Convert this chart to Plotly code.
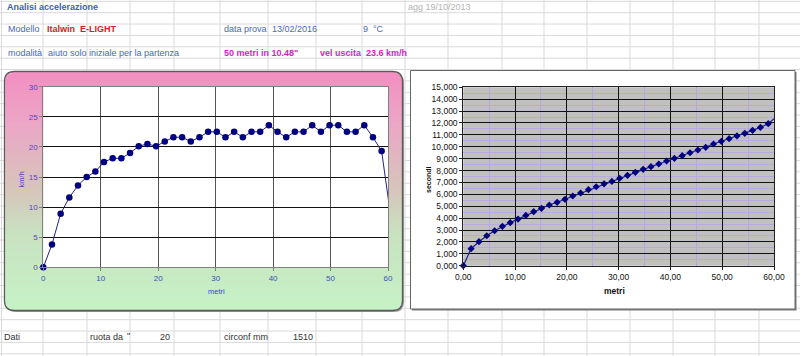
import math
import plotly.graph_objects as go

# ---------------- data ----------------
metri = [0.00, 1.51, 3.02, 4.53, 6.04, 7.55, 9.06, 10.57, 12.08, 13.59,
         15.10, 16.61, 18.12, 19.63, 21.14, 22.65, 24.16, 25.67, 27.18, 28.69,
         30.20, 31.71, 33.22, 34.73, 36.24, 37.75, 39.26, 40.77, 42.28, 43.79,
         45.30, 46.81, 48.32, 49.83, 51.34, 52.85, 54.36, 55.87, 57.38, 58.89,
         60.40]
velocita_kmh = [0.0, 3.8, 8.9, 11.6, 13.6, 15.0, 15.9, 17.5, 18.1, 18.1,
                19.0, 20.1, 20.5, 20.1, 20.9, 21.6, 21.6, 20.9, 21.6, 22.5,
                22.5, 21.6, 22.5, 21.6, 22.5, 22.5, 23.6, 22.5, 21.6, 22.5,
                22.5, 23.6, 22.5, 23.6, 23.6, 22.5, 22.5, 23.6, 21.6, 19.3,
                9.0]
tempo_s = [0.00, 1.43, 2.02, 2.52, 2.94, 3.31, 3.62, 3.92, 4.23, 4.54,
           4.82, 5.10, 5.33, 5.58, 5.86, 6.11, 6.39, 6.64, 6.88, 7.09,
           7.35, 7.60, 7.85, 8.10, 8.33, 8.55, 8.80, 9.03, 9.25, 9.50,
           9.73, 9.95, 10.23, 10.46, 10.68, 10.91, 11.13, 11.38, 11.63, 11.94,
           12.50]

# ---------------- geometry helpers ----------------
W, H = 800, 356


def px(x):
    return x / W


def py(y):
    return 1 - y / H


FONT = "Liberation Sans, Arial, sans-serif"

L_X0, L_X1, L_Y0, L_Y1 = 43.3, 388.0, 86.7, 267.3   # left plot area (pixels)
R_X0, R_X1, R_Y0, R_Y1 = 463.3, 774.0, 87.3, 265.7  # right plot area (pixels)

shapes = []

# spreadsheet grid
col_x = [1.5, 43, 87, 130, 174, 220, 268, 316, 362, 405, 448, 502, 544, 587,
         630, 673, 715, 759]
for cx in col_x:
    shapes.append(dict(type="line", xref="paper", yref="paper", layer="below",
                       x0=px(cx), x1=px(cx), y0=0, y1=1,
                       line=dict(color="#d9d9d9", width=1)))
for k in range(32):
    ry = 1.3 + 11.37 * k
    shapes.append(dict(type="line", xref="paper", yref="paper", layer="below",
                       x0=0, x1=1, y0=py(ry), y1=py(ry),
                       line=dict(color="#d9d9d9", width=1)))


def rounded_path(x0, y0, x1, y1, r):
    P = lambda x, y: f"{px(x):.5f},{py(y):.5f}"
    return (f"M{P(x0 + r, y0)} L{P(x1 - r, y0)} Q{P(x1, y0)} {P(x1, y0 + r)} "
            f"L{P(x1, y1 - r)} Q{P(x1, y1)} {P(x1 - r, y1)} "
            f"L{P(x0 + r, y1)} Q{P(x0, y1)} {P(x0, y1 - r)} "
            f"L{P(x0, y0 + r)} Q{P(x0, y0)} {P(x0 + r, y0)} Z")


# left box (rounded, gradient pink -> green)
BX0, BY0, BX1, BY1, BR = 4.5, 71.5, 402.5, 310.5, 10
shapes.append(dict(type="path", xref="paper", yref="paper", layer="below",
                   path=rounded_path(BX0 + 1.5, BY0 + 1.5, BX1 + 1.5, BY1 + 1.5, BR),
                   fillcolor="#9a9a9a", line=dict(width=0)))
stops = [(0.00, (255, 140, 198)), (0.22, (247, 168, 204)), (0.50, (222, 204, 192)),
         (0.68, (207, 236, 198)), (1.00, (204, 255, 204))]


def grad(t):
    for (t0, c0), (t1, c1) in zip(stops[:-1], stops[1:]):
        if t <= t1:
            f = (t - t0) / (t1 - t0) if t1 > t0 else 0
            return "rgb(%d,%d,%d)" % tuple(round(a + (b - a) * f) for a, b in zip(c0, c1))
    return "rgb(%d,%d,%d)" % stops[-1][1]


y = BY0
while y < BY1:
    yc = y + 0.5
    inset = 0.0
    if yc < BY0 + BR:
        d = BY0 + BR - yc
        inset = BR - math.sqrt(max(BR * BR - d * d, 0))
    elif yc > BY1 - BR:
        d = yc - (BY1 - BR)
        inset = BR - math.sqrt(max(BR * BR - d * d, 0))
    shapes.append(dict(type="rect", xref="paper", yref="paper", layer="below",
                       x0=px(BX0 + inset), x1=px(BX1 - inset),
                       y0=py(min(y + 1.3, BY1)), y1=py(y),
                       fillcolor=grad((yc - BY0) / (BY1 - BY0)), line=dict(width=0)))
    y += 1
shapes.append(dict(type="path", xref="paper", yref="paper", layer="below",
                   path=rounded_path(BX0, BY0, BX1, BY1, BR),
                   fillcolor="rgba(0,0,0,0)", line=dict(color="#5a5a5a", width=1.3)))

# right box
shapes.append(dict(type="rect", xref="paper", yref="paper", layer="below",
                   x0=px(412), x1=px(796.5), y0=py(310.5), y1=py(72),
                   fillcolor="#7a7a7a", line=dict(width=0)))
shapes.append(dict(type="rect", xref="paper", yref="paper", layer="below",
                   x0=px(410.5), x1=px(795), y0=py(309), y1=py(70.5),
                   fillcolor="white", line=dict(color="#666666", width=1)))

# plot area backgrounds
shapes.append(dict(type="rect", xref="paper", yref="paper", layer="below",
                   x0=px(L_X0), x1=px(L_X1), y0=py(L_Y1), y1=py(L_Y0),
                   fillcolor="white", line=dict(width=0)))
shapes.append(dict(type="rect", xref="paper", yref="paper", layer="below",
                   x0=px(R_X0), x1=px(R_X1), y0=py(R_Y1), y1=py(R_Y0),
                   fillcolor="#c0c0c0", line=dict(width=0)))

# ---------------- traces ----------------
fig = go.Figure()
fig.add_trace(go.Scatter(
    x=metri, y=velocita_kmh, mode="lines+markers", xaxis="x", yaxis="y",
    line=dict(color="#22228a", width=1),
    marker=dict(symbol="circle", size=6.5, color="#000080"),
    cliponaxis=False, hoverinfo="skip", showlegend=False))
fig.add_trace(go.Scatter(
    x=metri, y=tempo_s, mode="lines+markers", xaxis="x2", yaxis="y2",
    line=dict(color="#22228a", width=1.2),
    marker=dict(symbol="diamond", size=5.5, color="#000080"),
    cliponaxis=False, hoverinfo="skip", showlegend=False))

# ---------------- annotations (sheet text + axis titles) ----------------
ann = []


def txt(x, y, s, color, size=9, bold=False, anchor="left", angle=0):
    ann.append(dict(x=px(x), y=py(y), xref="paper", yref="paper", text=("<b>%s</b>" % s) if bold else s,
                    showarrow=False, xanchor=anchor, yanchor="middle", textangle=angle,
                    font=dict(family=FONT, size=size, color=color), borderpad=0))


BLUE = "#4868bc"
txt(6, 6.7, "Analisi accelerazione", "#3f5fb2", bold=True)
txt(406.5, 6.7, "agg 19/10/2013", "#b4b4b4")
txt(6.5, 29.3, "Modello", BLUE)
txt(46, 29.3, "Italwin\u00a0 E-LIGHT", "#cc2222", bold=True)
txt(222.5, 29.3, "data prova", BLUE)
txt(270.5, 29.3, "13/02/2016", BLUE)
txt(369, 29.3, "9", BLUE, anchor="right")
txt(372, 29.3, "°C", BLUE)
txt(6.5, 52.7, "modalità", BLUE)
txt(46.5, 52.7, "aiuto solo iniziale per la partenza", BLUE)
txt(222.5, 52.7, "50 metri in 10.48\"", "#d21ec8", bold=True)
txt(319, 52.7, "vel uscita\u00a0 23.6 km/h", "#d21ec8", bold=True)
txt(3.3, 336.7, "Dati", "#333333")
txt(89, 336.7, "ruota da", "#333333")
txt(126, 335.5, "\"", "#333333")
txt(170.5, 336.7, "20", "#333333", anchor="right")
txt(222.5, 336.7, "circonf mm", "#333333")
txt(313.5, 336.7, "1510", "#333333", anchor="right")

txt(216, 291, "metri", "#3344cc", size=7.5, anchor="center")
txt(20.5, 180, "km/h", "#5a3ec8", size=7.5, anchor="center", angle=-90)
txt(614.5, 290.7, "metri", "#111111", size=8.5, bold=True, anchor="center")
txt(428, 180, "secondi", "#111111", size=7, bold=True, anchor="center", angle=-90)

# ---------------- layout ----------------
tf_left_x = dict(family=FONT, size=8, color="#3b4fb8")
tf_left_y = dict(family=FONT, size=8, color="#5a3ec8")
tf_right = dict(family=FONT, size=8.5, color="#111111")

fig.update_layout(
    width=W, height=H, margin=dict(l=0, r=0, t=0, b=0, pad=0, autoexpand=False),
    paper_bgcolor="white", plot_bgcolor="rgba(0,0,0,0)",
    separators=",.", showlegend=False, hovermode=False,
    shapes=shapes, annotations=ann,
    xaxis=dict(domain=[px(L_X0), px(L_X1)], anchor="y", range=[0, 60], dtick=10,
               showgrid=True, gridcolor="#555555", gridwidth=1, zeroline=False,
               showline=True, linecolor="#808080", mirror=True,
               ticks="outside", ticklen=3, tickcolor="#808080", automargin=False,
               tickfont=tf_left_x, fixedrange=True),
    yaxis=dict(domain=[py(L_Y1), py(L_Y0)], anchor="x", range=[0, 30], dtick=5,
               showgrid=True, gridcolor="#111111", gridwidth=1, zeroline=False,
               showline=True, linecolor="#808080", mirror=True,
               ticks="outside", ticklen=3, tickcolor="#808080", automargin=False,
               tickfont=tf_left_y, fixedrange=True),
    xaxis2=dict(domain=[px(R_X0), px(R_X1)], anchor="y2", range=[0, 60], dtick=10,
                tickformat=".2f", showgrid=True, gridcolor="#111111", gridwidth=1,
                zeroline=False, showline=True, linecolor="#222222", mirror=True,
                ticks="outside", ticklen=3, tickcolor="#222222", automargin=False,
                minor=dict(dtick=5, showgrid=True, gridcolor="#b4a4ec", gridwidth=1),
                tickfont=tf_right, fixedrange=True),
    yaxis2=dict(domain=[py(R_Y1), py(R_Y0)], anchor="x2", range=[0, 15], dtick=1,
                tickformat=".3f", showgrid=True, gridcolor="#111111", gridwidth=1,
                zeroline=False, showline=True, linecolor="#222222", mirror=True,
                ticks="outside", ticklen=3, tickcolor="#222222", automargin=False,
                minor=dict(dtick=0.5, showgrid=True, gridcolor="#b8aadc", gridwidth=1),
                tickfont=tf_right, fixedrange=True),
)

fig.write_html("out.html", config={"displayModeBar": False},
               post_script="document.body.style.margin='0';")
